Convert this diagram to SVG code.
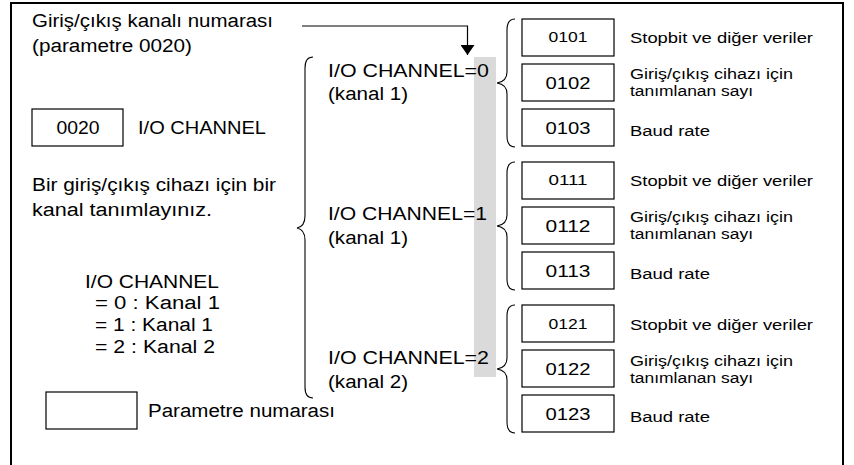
<svg xmlns="http://www.w3.org/2000/svg" width="854" height="465" viewBox="0 0 854 465">
<style>
text{font-family:"Liberation Sans",Arial,sans-serif;fill:#000}
.t{font-size:18px}
.l{font-size:15.5px}
.n1{font-size:14px;text-anchor:middle}
.n2{font-size:17px;text-anchor:middle}
.box{fill:#fff;stroke:#000;stroke-width:1.2}
.br{fill:none;stroke:#000;stroke-width:1.1}
</style>
<defs>
<marker id="ah" viewBox="0 0 10 14" refX="10" refY="7" markerWidth="10" markerHeight="14" markerUnits="userSpaceOnUse" orient="auto">
<path d="M0,0 L10,7 L0,14 Z" fill="#000"/>
</marker>
</defs>
<rect width="854" height="465" fill="#fff"/>
<path d="M11 465 V3 H843 V465" fill="none" stroke="#000" stroke-width="2"/>
<rect x="474" y="57" width="22" height="320" fill="#dadada"/>

<g id="connectors">
<path d="M302 26 H467.5 V55" fill="none" stroke="#000" stroke-width="1.2" marker-end="url(#ah)"/>
<path class="br" d="M313 57 C308 57,305 61,305 68 L305 216 C305 223,302 227,297 228 C302 229,305 233,305 240 L305 387 C305 394,308 398,313 398"/>
<path class="br" d="M515 19 C510 19,507 23,507 30 L507 72 C507 78,504 82,497 83 C504 84,507 88,507 94 L507 136 C507 143,510 147,515 147"/>
<path class="br" d="M515 162 C510 162,507 166,507 173 L507 215 C507 221,504 225,497 226 C504 227,507 231,507 237 L507 279 C507 286,510 290,515 290"/>
<path class="br" d="M515 305 C510 305,507 309,507 316 L507 358 C507 364,504 368,497 369 C504 370,507 374,507 380 L507 422 C507 429,510 433,515 433"/>
</g>

<g id="title">
<text class="t" x="32" y="27" textLength="241" lengthAdjust="spacingAndGlyphs">Giriş/çıkış kanalı numarası</text>
<text class="t" x="32" y="52" textLength="160" lengthAdjust="spacingAndGlyphs">(parametre 0020)</text>
</g>

<g id="param0020">
<rect class="box" x="32" y="109" width="91" height="37"/>
<text x="78" y="134" style="font-size:18px;text-anchor:middle" textLength="43" lengthAdjust="spacingAndGlyphs">0020</text>
<text class="t" x="138" y="134" textLength="128" lengthAdjust="spacingAndGlyphs">I/O CHANNEL</text>
</g>

<g id="note">
<text class="t" x="32" y="191" textLength="244" lengthAdjust="spacingAndGlyphs">Bir giriş/çıkış cihazı için bir</text>
<text class="t" x="32" y="216" textLength="180" lengthAdjust="spacingAndGlyphs">kanal tanımlayınız.</text>
</g>

<g id="legend">
<text class="t" x="85" y="288" textLength="134" lengthAdjust="spacingAndGlyphs">I/O CHANNEL</text>
<text class="t" x="95" y="309" textLength="125" lengthAdjust="spacingAndGlyphs">= 0 : Kanal 1</text>
<text class="t" x="95" y="331" textLength="118" lengthAdjust="spacingAndGlyphs">= 1 : Kanal 1</text>
<text class="t" x="95" y="353" textLength="120" lengthAdjust="spacingAndGlyphs">= 2 : Kanal 2</text>
</g>

<g id="key">
<rect class="box" x="46" y="392" width="91" height="37"/>
<text class="t" x="148" y="417" textLength="187" lengthAdjust="spacingAndGlyphs">Parametre numarası</text>
</g>

<g id="channel0">
<text class="t" x="328" y="77" textLength="161" lengthAdjust="spacingAndGlyphs">I/O CHANNEL=0</text>
<text class="t" x="328" y="100" textLength="80" lengthAdjust="spacingAndGlyphs">(kanal 1)</text>
</g>
<g id="channel1">
<text class="t" x="328" y="220" textLength="159" lengthAdjust="spacingAndGlyphs">I/O CHANNEL=1</text>
<text class="t" x="328" y="244" textLength="80" lengthAdjust="spacingAndGlyphs">(kanal 1)</text>
</g>
<g id="channel2">
<text class="t" x="328" y="364" textLength="161" lengthAdjust="spacingAndGlyphs">I/O CHANNEL=2</text>
<text class="t" x="328" y="388" textLength="80" lengthAdjust="spacingAndGlyphs">(kanal 2)</text>
</g>

<g id="p0101"><rect class="box" x="522" y="19" width="92" height="37"/><text class="n1" x="568" y="42" textLength="39" lengthAdjust="spacingAndGlyphs">0101</text><text class="l" x="630" y="43" textLength="183" lengthAdjust="spacingAndGlyphs">Stopbit ve diğer veriler</text></g>
<g id="p0102"><rect class="box" x="522" y="64" width="92" height="37"/><text class="n2" x="568" y="89" textLength="45" lengthAdjust="spacingAndGlyphs">0102</text><text class="l" x="630" y="79" textLength="163" lengthAdjust="spacingAndGlyphs">Giriş/çıkış cihazı için</text><text class="l" x="630" y="96" textLength="123" lengthAdjust="spacingAndGlyphs">tanımlanan sayı</text></g>
<g id="p0103"><rect class="box" x="522" y="109" width="92" height="37"/><text class="n2" x="568" y="134" textLength="45" lengthAdjust="spacingAndGlyphs">0103</text><text class="l" x="630" y="136" textLength="80" lengthAdjust="spacingAndGlyphs">Baud rate</text></g>

<g id="p0111"><rect class="box" x="522" y="162" width="92" height="37"/><text class="n1" x="568" y="185" textLength="39" lengthAdjust="spacingAndGlyphs">0111</text><text class="l" x="630" y="186" textLength="183" lengthAdjust="spacingAndGlyphs">Stopbit ve diğer veriler</text></g>
<g id="p0112"><rect class="box" x="522" y="207" width="92" height="37"/><text class="n2" x="568" y="232" textLength="45" lengthAdjust="spacingAndGlyphs">0112</text><text class="l" x="630" y="222" textLength="163" lengthAdjust="spacingAndGlyphs">Giriş/çıkış cihazı için</text><text class="l" x="630" y="239" textLength="123" lengthAdjust="spacingAndGlyphs">tanımlanan sayı</text></g>
<g id="p0113"><rect class="box" x="522" y="252" width="92" height="37"/><text class="n2" x="568" y="277" textLength="45" lengthAdjust="spacingAndGlyphs">0113</text><text class="l" x="630" y="279" textLength="80" lengthAdjust="spacingAndGlyphs">Baud rate</text></g>

<g id="p0121"><rect class="box" x="522" y="305" width="92" height="37"/><text class="n1" x="568" y="329" textLength="39" lengthAdjust="spacingAndGlyphs">0121</text><text class="l" x="630" y="330" textLength="183" lengthAdjust="spacingAndGlyphs">Stopbit ve diğer veriler</text></g>
<g id="p0122"><rect class="box" x="522" y="350" width="92" height="37"/><text class="n2" x="568" y="375" textLength="45" lengthAdjust="spacingAndGlyphs">0122</text><text class="l" x="630" y="366" textLength="163" lengthAdjust="spacingAndGlyphs">Giriş/çıkış cihazı için</text><text class="l" x="630" y="383" textLength="123" lengthAdjust="spacingAndGlyphs">tanımlanan sayı</text></g>
<g id="p0123"><rect class="box" x="522" y="395" width="92" height="37"/><text class="n2" x="568" y="420" textLength="45" lengthAdjust="spacingAndGlyphs">0123</text><text class="l" x="630" y="422" textLength="80" lengthAdjust="spacingAndGlyphs">Baud rate</text></g>
</svg>
